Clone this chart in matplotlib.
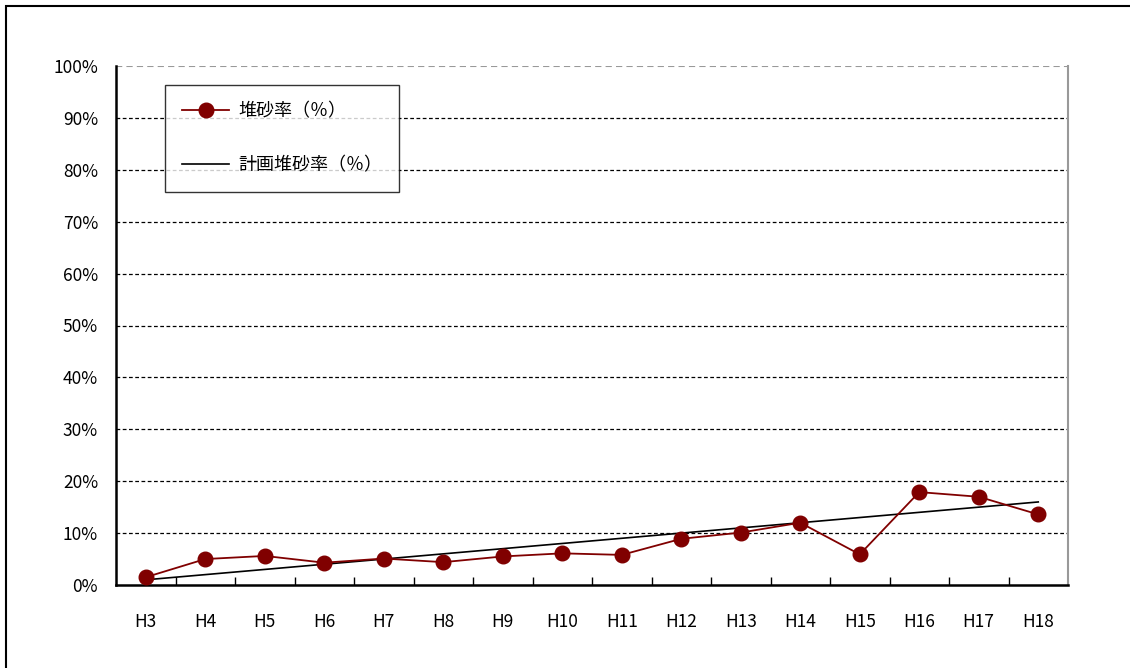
import numpy as np
import matplotlib.pyplot as plt
from matplotlib.patches import Rectangle
from matplotlib.ticker import FixedLocator, PercentFormatter

plt.rcParams['font.family'] = ['Noto Sans CJK JP', 'DejaVu Sans']

# データ
years = ['H3', 'H4', 'H5', 'H6', 'H7', 'H8', 'H9', 'H10',
         'H11', 'H12', 'H13', 'H14', 'H15', 'H16', 'H17', 'H18']
sediment = [1.5, 5.0, 5.6, 4.3, 5.1, 4.4, 5.5, 6.1,
            5.8, 8.9, 10.1, 12.0, 5.9, 17.9, 17.0, 13.6]
plan = [1.0, 2.0, 3.0, 4.0, 5.0, 6.0, 7.0, 8.0,
        9.0, 10.0, 11.0, 12.0, 13.0, 14.0, 15.0, 16.0]

fig = plt.figure(figsize=(11.3, 6.68), dpi=100)
ax = fig.add_axes([116 / 1130, 83 / 668, 952 / 1130, 519 / 668])

x = np.arange(len(years))
ax.plot(x, sediment, color='#800000', lw=1.3, marker='o', markersize=10.5,
        label='堆砂率（％）', zorder=4)
ax.plot(x, plan, color='black', lw=1.2, label='計画堆砂率（％）', zorder=3)

# 軸
ax.set_xlim(-0.5, len(years) - 0.5)
ax.set_ylim(0, 100)
ax.set_xticks(x)
ax.set_xticklabels(years, fontsize=12.5)
ax.xaxis.set_minor_locator(FixedLocator(np.arange(0.5, len(years) - 1, 1)))
ax.tick_params(axis='x', which='major', length=0, pad=20)
ax.tick_params(axis='x', which='minor', direction='in', length=6, width=1)
ax.set_yticks(np.arange(0, 101, 10))
ax.yaxis.set_major_formatter(PercentFormatter(decimals=0))
ax.tick_params(axis='y', length=0, labelsize=12.5, pad=13)

# グリッド
for v in range(10, 100, 10):
    ax.axhline(v, color='black', lw=0.9, ls=(0, (3, 2)), zorder=1)
ax.axhline(100, color='#999999', lw=1.5, ls=(0, (3, 2)), zorder=1)

ax.spines['top'].set_visible(False)
ax.spines['right'].set_color('#999999')
ax.spines['right'].set_linewidth(1.5)
ax.spines['left'].set_linewidth(1.8)
ax.spines['bottom'].set_linewidth(1.8)

leg = ax.legend(loc='upper left', bbox_to_anchor=(0.0515, 0.963),
                fontsize=13, frameon=True, fancybox=False, edgecolor='black',
                handlelength=2.6, labelspacing=2.0, borderpad=0.95,
                handletextpad=0.5, borderaxespad=0)
leg.get_frame().set_linewidth(1.0)

# 外枠
fig.patches.append(Rectangle((6 / 1130, -0.1), 2, 1 - 6 / 668 + 0.1,
                             transform=fig.transFigure, fill=False,
                             edgecolor='black', lw=1.5))

plt.savefig('out.png', dpi=100)
